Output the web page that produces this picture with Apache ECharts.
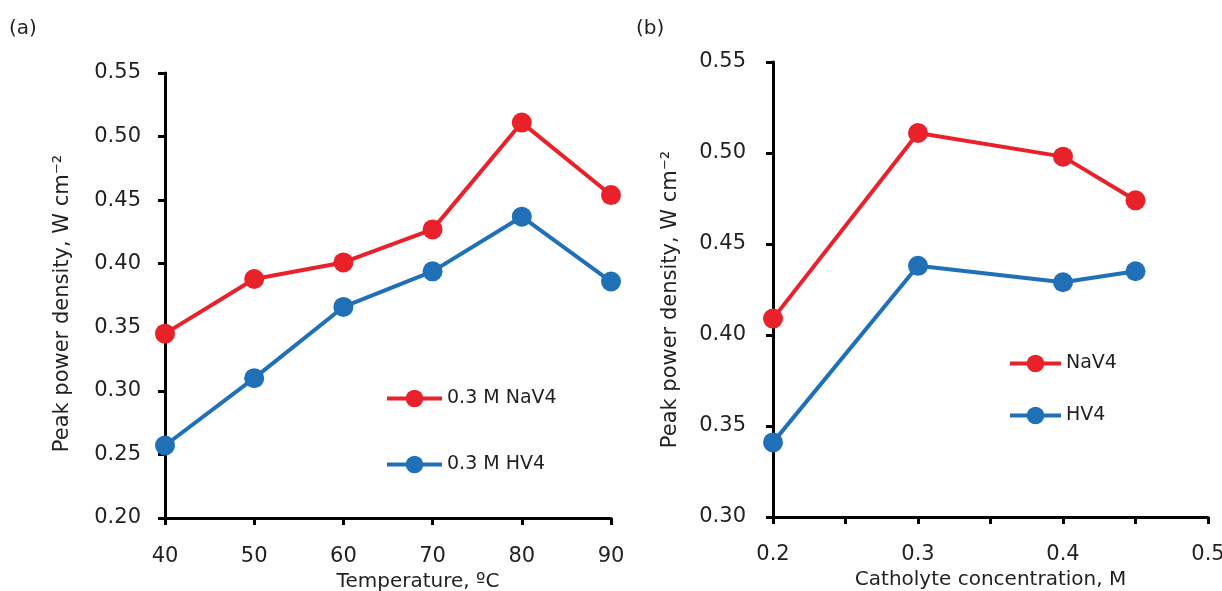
<!DOCTYPE html>
<html><head><meta charset="utf-8">
<script src="https://cdn.jsdelivr.net/npm/echarts@6/dist/echarts.min.js"></script>
<style>html,body{margin:0;padding:0;background:#fff}#c{width:1222px;height:591px}</style>
</head><body><div id="c"></div>
<script>
const tempX = [40, 50, 60, 70, 80, 90];
const tempNaV4 = [0.345, 0.388, 0.401, 0.427, 0.511, 0.454];
const tempHV4 = [0.257, 0.310, 0.366, 0.394, 0.437, 0.386];
const concX = [0.2, 0.3, 0.4, 0.45];
const concNaV4 = [0.409, 0.511, 0.498, 0.474];
const concHV4 = [0.341, 0.438, 0.429, 0.435];
const seriesNamesA = ['0.3 M NaV4', '0.3 M HV4'];
const seriesNamesB = ['NaV4', 'HV4'];
const RED = '#e8212b', BLUE = '#1f70b6', TXT = '#231f20';
const FONT = 'DejaVu Sans';

const pair = (xs, ys) => xs.map((x, i) => [x, ys[i]]);
const axisCommon = {
  axisLine: {show: true, lineStyle: {color: '#000', width: 3}},
  axisTick: {show: true, inside: false, length: 7, lineStyle: {color: '#000', width: 3}},
  splitLine: {show: false},
  axisLabel: {color: TXT, fontFamily: FONT, fontSize: 21},
  nameTextStyle: {color: TXT, fontFamily: FONT, fontSize: 20},
  nameLocation: 'middle'
};
const mkSeries = (name, data, color, idx) => ({
  type: 'line', name, data, xAxisIndex: idx, yAxisIndex: idx,
  symbol: 'circle', symbolSize: 20,
  lineStyle: {color, width: 4}, itemStyle: {color}, z: 3
});
const legendBase = {orient: 'vertical', padding: 0, itemWidth: 56, itemHeight: 22, itemGap: 10,
  lineStyle: {width: 4}, itemStyle: {borderWidth: 0},
  textStyle: {color: TXT, fontFamily: FONT, fontSize: 19}, selectedMode: false};
const lg = (o) => Object.assign({}, legendBase, o);

const chart = echarts.init(document.getElementById('c'), null, {renderer: 'canvas'});
chart.setOption({
  animation: false,
  textStyle: {fontFamily: FONT},
  graphic: [
    {type: 'text', left: 9, top: 19, style: {text: '(a)', fontSize: 20, fontFamily: FONT, fill: TXT}},
    {type: 'text', left: 636, top: 19, style: {text: '(b)', fontSize: 20, fontFamily: FONT, fill: TXT}}
  ],
  grid: [
    {left: 165, top: 73, width: 446, height: 445, containLabel: false, outerBoundsMode: 'none'},
    {left: 773, top: 62, width: 435, height: 455, containLabel: false, outerBoundsMode: 'none'}
  ],
  legend: [
    lg({left: 385, top: 389, itemWidth: 55, data: [seriesNamesA[0]]}),
    lg({left: 385, top: 455, itemWidth: 55, data: [seriesNamesA[1]]}),
    lg({left: 1008, top: 354, itemWidth: 51, data: [seriesNamesB[0]]}),
    lg({left: 1008, top: 406, itemWidth: 51, data: [seriesNamesB[1]]})
  ],
  xAxis: [
    Object.assign({}, axisCommon, {gridIndex: 0, type: 'value', min: 40, max: 90, interval: 10,
      name: 'Temperature, ºC', nameGap: 46,
      nameTextStyle: Object.assign({}, axisCommon.nameTextStyle, {padding: [0, 0, 0, 60]}),
      axisLabel: Object.assign({}, axisCommon.axisLabel, {margin: 28})}),
    Object.assign({}, axisCommon, {gridIndex: 1, type: 'value', min: 0.2, max: 0.5, interval: 0.05,
      name: 'Catholyte concentration, M', nameGap: 48,
      axisLabel: Object.assign({}, axisCommon.axisLabel, {margin: 27, showMinLabel: true, showMaxLabel: true,
        formatter: v => Math.abs(v * 10 - Math.round(v * 10)) < 1e-6 ? v.toFixed(1) : ''})})
  ],
  yAxis: [
    Object.assign({}, axisCommon, {gridIndex: 0, type: 'value', min: 0.2, max: 0.55, interval: 0.05,
      name: 'Peak power density, W cm⁻²', nameGap: 92,
      nameTextStyle: Object.assign({}, axisCommon.nameTextStyle, {fontSize: 21, padding: [0, 16, 0, 0]}),
      axisLabel: Object.assign({}, axisCommon.axisLabel, {margin: 24, formatter: v => v.toFixed(2)})}),
    Object.assign({}, axisCommon, {gridIndex: 1, type: 'value', min: 0.3, max: 0.55, interval: 0.05,
      name: 'Peak power density, W cm⁻²', nameGap: 92,
      nameTextStyle: Object.assign({}, axisCommon.nameTextStyle, {fontSize: 21, padding: [0, 20, 0, 0]}),
      axisLabel: Object.assign({}, axisCommon.axisLabel, {margin: 27, formatter: v => v.toFixed(2)})})
  ],
  series: [
    mkSeries(seriesNamesA[0], pair(tempX, tempNaV4), RED, 0),
    mkSeries(seriesNamesA[1], pair(tempX, tempHV4), BLUE, 0),
    mkSeries(seriesNamesB[0], pair(concX, concNaV4), RED, 1),
    mkSeries(seriesNamesB[1], pair(concX, concHV4), BLUE, 1)
  ]
});
</script></body></html>
